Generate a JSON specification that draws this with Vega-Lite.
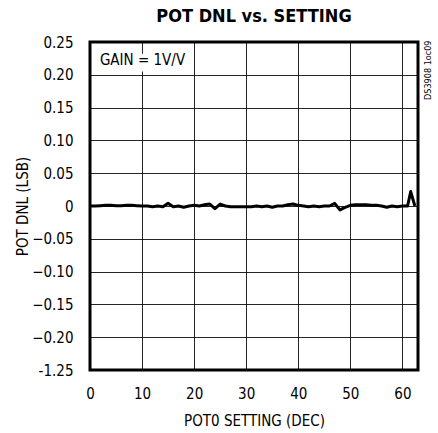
{
  "$schema": "https://vega.github.io/schema/vega-lite/v6.json",
  "autosize": {"type": "none"},
  "padding": {"left": 90, "top": 42, "right": 20, "bottom": 63},
  "width": 328,
  "height": 328,
  "background": "white",
  "title": {
    "text": "POT DNL vs. SETTING",
    "font": "DejaVu Sans Condensed, Roboto, sans-serif",
    "fontSize": 18,
    "fontWeight": "bold",
    "color": "black",
    "anchor": "middle",
    "offset": 9
  },
  "config": {
    "view": {"stroke": "black", "strokeWidth": 3},
    "axis": {
      "labelFont": "DejaVu Sans Condensed, Roboto, sans-serif",
      "labelFontSize": 15,
      "labelColor": "black",
      "titleFont": "DejaVu Sans Condensed, Roboto, sans-serif",
      "titleFontSize": 15,
      "titleFontWeight": "normal",
      "titleColor": "black",
      "domain": false,
      "ticks": false,
      "tickSize": 0,
      "labelOverlap": false,
      "gridColor": "black",
      "gridWidth": 1,
      "gridOpacity": 0.85
    }
  },
  "data": {
    "values": [
      {"setting": 0, "dnl": 0.0},
      {"setting": 1, "dnl": 0.0},
      {"setting": 2, "dnl": 0.0005},
      {"setting": 3, "dnl": 0.001},
      {"setting": 4, "dnl": 0.001},
      {"setting": 5, "dnl": 0.0005},
      {"setting": 6, "dnl": 0.0005},
      {"setting": 7, "dnl": 0.001},
      {"setting": 8, "dnl": 0.001},
      {"setting": 9, "dnl": 0.0005},
      {"setting": 10, "dnl": 0.0},
      {"setting": 11, "dnl": 0.0},
      {"setting": 12, "dnl": -0.001},
      {"setting": 13, "dnl": 0.0},
      {"setting": 14, "dnl": -0.001},
      {"setting": 15, "dnl": 0.004},
      {"setting": 16, "dnl": -0.001},
      {"setting": 17, "dnl": 0.0},
      {"setting": 18, "dnl": -0.002},
      {"setting": 19, "dnl": 0.0},
      {"setting": 20, "dnl": 0.001},
      {"setting": 21, "dnl": 0.0},
      {"setting": 22, "dnl": 0.002},
      {"setting": 23, "dnl": 0.003},
      {"setting": 24, "dnl": -0.004},
      {"setting": 25, "dnl": 0.003},
      {"setting": 26, "dnl": 0.0},
      {"setting": 27, "dnl": -0.001},
      {"setting": 28, "dnl": -0.001},
      {"setting": 29, "dnl": -0.001},
      {"setting": 30, "dnl": -0.001},
      {"setting": 31, "dnl": -0.001},
      {"setting": 32, "dnl": 0.0},
      {"setting": 33, "dnl": -0.001},
      {"setting": 34, "dnl": 0.0},
      {"setting": 35, "dnl": -0.002},
      {"setting": 36, "dnl": 0.0},
      {"setting": 37, "dnl": 0.0},
      {"setting": 38, "dnl": 0.002},
      {"setting": 39, "dnl": 0.003},
      {"setting": 40, "dnl": 0.001},
      {"setting": 41, "dnl": 0.0},
      {"setting": 42, "dnl": -0.001},
      {"setting": 43, "dnl": 0.0},
      {"setting": 44, "dnl": -0.001},
      {"setting": 45, "dnl": 0.0},
      {"setting": 46, "dnl": 0.0},
      {"setting": 47, "dnl": 0.004},
      {"setting": 48, "dnl": -0.006},
      {"setting": 49, "dnl": -0.002},
      {"setting": 50, "dnl": 0.001},
      {"setting": 51, "dnl": 0.002},
      {"setting": 52, "dnl": 0.002},
      {"setting": 53, "dnl": 0.002},
      {"setting": 54, "dnl": 0.001},
      {"setting": 55, "dnl": 0.001},
      {"setting": 56, "dnl": 0.0},
      {"setting": 57, "dnl": -0.002},
      {"setting": 58, "dnl": 0.0},
      {"setting": 59, "dnl": -0.001},
      {"setting": 60, "dnl": 0.0},
      {"setting": 61, "dnl": 0.0},
      {"setting": 61.6, "dnl": 0.022},
      {"setting": 62.4, "dnl": 0.0}
    ]
  },
  "encoding": {
    "x": {
      "field": "setting",
      "type": "quantitative",
      "scale": {"domain": [0, 63], "nice": false, "zero": false},
      "axis": {
        "title": "POT0 SETTING (DEC)",
        "values": [0, 10, 20, 30, 40, 50, 60],
        "labelPadding": 16,
        "titlePadding": 12,
        "labelFlush": false
      }
    },
    "y": {
      "field": "dnl",
      "type": "quantitative",
      "scale": {"domain": [-0.25, 0.25], "nice": false, "zero": false},
      "axis": {
        "title": "POT DNL (LSB)",
        "values": [-0.25, -0.2, -0.15, -0.1, -0.05, 0, 0.05, 0.1, 0.15, 0.2, 0.25],
        "labelExpr": "abs(datum.value) < 1e-9 ? '0' : (datum.value < -0.24 ? '-1.25' : format(datum.value, '.2f'))",
        "labelPadding": 17,
        "titlePadding": 1,
        "labelFlush": false
      }
    }
  },
  "layer": [
    {
      "mark": {"type": "line", "color": "black", "strokeWidth": 3, "strokeJoin": "round"}
    },
    {
      "transform": [{"filter": "datum.setting == 0"}],
      "mark": {"type": "rect", "fill": "white", "stroke": null},
      "encoding": {
        "x": {"datum": 0.4},
        "x2": {"datum": 18},
        "y": {"datum": 0.205},
        "y2": {"datum": 0.232}
      }
    },
    {
      "transform": [{"filter": "datum.setting == 0"}],
      "mark": {
        "type": "text",
        "text": "GAIN = 1V/V",
        "font": "DejaVu Sans Condensed, Roboto, sans-serif",
        "fontSize": 15,
        "align": "left",
        "baseline": "middle",
        "fill": "black"
      },
      "encoding": {
        "x": {"datum": 1.9},
        "y": {"datum": 0.2226}
      }
    },
    {
      "transform": [{"filter": "datum.setting == 0"}],
      "mark": {
        "type": "text",
        "text": "DS3908 1oc09",
        "font": "DejaVu Sans Condensed, Roboto, sans-serif",
        "fontSize": 9,
        "angle": 270,
        "align": "center",
        "baseline": "middle",
        "fill": "black"
      },
      "encoding": {
        "x": {"datum": 64.9},
        "y": {"datum": 0.207}
      }
    }
  ]
}
